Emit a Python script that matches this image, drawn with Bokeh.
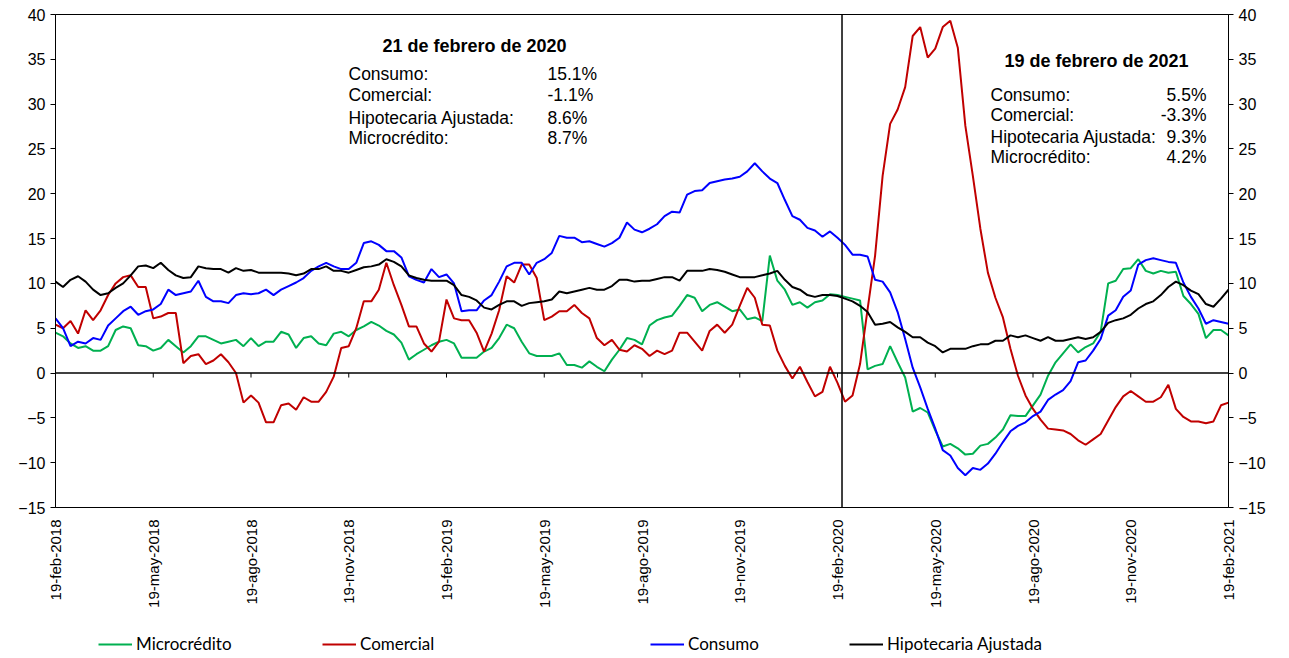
import math
from bokeh.plotting import figure
from bokeh.layouts import column
from bokeh.models import Range1d, LinearAxis, FixedTicker, Span, Label, Legend, LegendItem
from bokeh.embed import file_html
from bokeh.resources import INLINE

# ---------------- data (weekly, 19-feb-2018 .. 19-feb-2021) ----------------
tick_labels = ["19-feb-2018", "19-may-2018", "19-ago-2018", "19-nov-2018",
               "19-feb-2019", "19-may-2019", "19-ago-2019", "19-nov-2019",
               "19-feb-2020", "19-may-2020", "19-ago-2020", "19-nov-2020",
               "19-feb-2021"]
weeks_per_tick = 13

microcredito = [
    4.5, 4.1, 3.3, 2.8, 3.0, 2.5, 2.5, 3.0, 4.8, 5.2, 5.0, 3.1, 3.0, 2.5, 2.8, 3.7, 3.0, 2.3, 3.0, 4.1, 4.1, 3.7, 3.3, 3.5, 3.7, 3.0, 3.9,
    3.0, 3.5, 3.5, 4.6, 4.3, 2.8, 3.9, 4.1, 3.3, 3.1, 4.4, 4.6, 4.1, 4.8, 5.2, 5.7, 5.3, 4.7, 4.3, 3.4, 1.5, 2.1, 2.6, 3.1, 3.5, 3.7,
    3.3, 1.7, 1.7, 1.7, 2.4, 2.8, 3.9, 5.4, 5.0, 3.5, 2.2, 1.9, 1.9, 1.9, 2.2, 0.9, 0.9, 0.6, 1.3, 0.7, 0.2, 1.5, 2.6, 3.9, 3.7, 3.2,
    5.3, 5.9, 6.2, 6.4, 7.5, 8.7, 8.4, 6.9, 7.6, 7.9, 7.4, 6.9, 7.1, 6.0, 6.2, 5.8, 13.1, 10.3, 9.3, 7.6, 7.9, 7.3, 7.9, 8.1, 8.8, 8.7,
    8.5, 8.3, 8.1, 0.4, 0.8, 1.0, 3.0, 1.2, -0.5, -4.3, -3.9, -4.4, -6.4, -8.2, -7.9, -8.4, -9.1, -9.0, -8.1, -7.9, -7.2, -6.3, -4.7, -4.8, -4.8, -3.6,
    -2.4, -0.3, 1.2, 2.2, 3.2, 2.3, 2.9, 3.3, 4.6, 10.0, 10.3, 11.6, 11.7, 12.7, 11.4, 11.1, 11.4, 11.2, 11.3, 8.6, 7.7, 6.6, 3.9, 4.8, 4.8, 4.2,
]
comercial = [
    5.4, 5.0, 5.8, 4.4, 7.0, 5.9, 7.0, 8.7, 10.0, 10.7, 10.9, 9.6, 9.6, 6.1, 6.3, 6.7, 6.7, 1.1, 1.9, 2.1, 1.0, 1.4, 2.1, 1.2, 0.0, -3.3, -2.5,
    -3.3, -5.5, -5.5, -3.6, -3.4, -4.1, -2.7, -3.2, -3.2, -2.1, -0.4, 2.8, 3.0, 5.0, 8.0, 8.0, 9.3, 12.3, 9.8, 7.6, 5.2, 5.2, 3.3, 2.4, 3.5, 8.2,
    6.1, 5.9, 5.9, 4.5, 2.4, 4.4, 7.0, 10.8, 10.1, 12.1, 12.1, 10.6, 5.9, 6.3, 6.9, 6.9, 7.6, 6.7, 6.1, 3.9, 3.1, 3.7, 2.6, 2.4, 3.1, 2.7,
    1.9, 2.5, 2.1, 2.5, 4.5, 4.5, 3.5, 2.5, 4.7, 5.4, 4.5, 5.4, 7.5, 9.5, 8.4, 5.4, 5.3, 2.5, 0.8, -0.6, 0.7, -1.0, -2.6, -2.1, 0.7, -1.1,
    -3.2, -2.5, 1.0, 7.1, 13.1, 22.0, 27.8, 29.4, 31.9, 37.6, 38.6, 35.2, 36.2, 38.6, 39.3, 36.3, 27.6, 22.0, 16.1, 11.2, 8.4, 6.2, 2.7, -0.3, -2.5, -4.0,
    -5.2, -6.2, -6.3, -6.4, -6.8, -7.5, -8.0, -7.4, -6.8, -5.3, -3.8, -2.6, -2.0, -2.6, -3.2, -3.2, -2.7, -1.3, -4.0, -4.9, -5.4, -5.4, -5.6, -5.4, -3.6, -3.3,
]
consumo = [
    6.1, 5.0, 3.0, 3.5, 3.3, 3.9, 3.7, 5.3, 6.1, 6.9, 7.4, 6.5, 6.9, 7.1, 7.7, 9.3, 8.7, 8.9, 9.1, 10.3, 8.5, 8.0, 8.0, 7.8, 8.7, 8.9, 8.8,
    8.9, 9.3, 8.7, 9.3, 9.7, 10.1, 10.6, 11.4, 11.9, 12.3, 11.9, 11.6, 11.6, 12.3, 14.5, 14.7, 14.3, 13.6, 13.6, 12.9, 10.8, 10.4, 10.1, 11.6, 10.7, 11.0,
    10.0, 6.9, 7.0, 7.0, 8.1, 8.7, 10.2, 11.9, 12.3, 12.3, 11.0, 12.3, 12.7, 13.4, 15.3, 15.1, 15.1, 14.6, 14.7, 14.4, 14.1, 14.5, 15.1, 16.8, 16.0, 15.7,
    16.1, 16.6, 17.5, 18.0, 17.9, 19.9, 20.3, 20.4, 21.2, 21.4, 21.6, 21.7, 21.9, 22.5, 23.4, 22.5, 21.7, 21.2, 19.3, 17.5, 17.1, 16.2, 15.9, 15.2, 15.8, 15.1,
    14.3, 13.2, 13.2, 13.0, 10.4, 10.2, 9.0, 6.8, 3.8, 0.6, -1.6, -4.0, -6.2, -8.6, -9.2, -10.6, -11.4, -10.6, -10.8, -10.1, -9.0, -7.7, -6.5, -5.9, -5.5, -4.8,
    -4.3, -3.0, -2.4, -1.9, -0.9, 1.2, 1.4, 2.5, 3.8, 6.4, 7.0, 8.5, 9.2, 12.1, 12.6, 12.8, 12.6, 12.4, 12.3, 10.1, 8.5, 7.2, 5.5, 5.9, 5.7, 5.5,
]
hipotecaria = [
    10.2, 9.6, 10.4, 10.8, 10.2, 9.3, 8.7, 8.9, 9.5, 10.0, 10.9, 11.9, 12.0, 11.7, 12.3, 11.5, 10.9, 10.6, 10.7, 11.9, 11.7, 11.6, 11.6, 11.2, 11.7, 11.4, 11.5,
    11.2, 11.2, 11.2, 11.2, 11.1, 10.9, 11.1, 11.6, 11.6, 11.9, 11.4, 11.4, 11.2, 11.5, 11.8, 11.9, 12.1, 12.7, 12.4, 11.9, 10.9, 10.6, 10.4, 10.3, 10.3, 10.3,
    9.8, 8.7, 8.5, 8.1, 7.3, 7.1, 7.6, 8.0, 8.0, 7.5, 7.8, 7.9, 8.0, 8.2, 9.1, 8.9, 9.1, 9.3, 9.5, 9.3, 9.3, 9.7, 10.4, 10.4, 10.2, 10.3,
    10.3, 10.5, 10.7, 10.7, 10.3, 11.4, 11.4, 11.4, 11.6, 11.5, 11.3, 11.0, 10.7, 10.7, 10.7, 10.9, 11.1, 11.4, 10.4, 9.6, 9.3, 8.7, 8.5, 8.7, 8.7, 8.6,
    8.3, 8.0, 7.5, 6.8, 5.4, 5.5, 5.7, 5.1, 4.6, 4.0, 4.0, 3.4, 3.0, 2.3, 2.7, 2.7, 2.7, 3.0, 3.2, 3.2, 3.6, 3.6, 4.2, 4.0, 4.2, 3.9,
    3.6, 4.0, 3.6, 3.6, 3.8, 4.0, 3.8, 4.0, 4.6, 5.6, 5.9, 6.1, 6.5, 7.2, 7.7, 8.0, 8.7, 9.6, 10.2, 9.8, 9.2, 8.8, 7.7, 7.4, 8.3, 9.3,
]
weeks = list(range(len(consumo)))

series_names = ["Microcrédito", "Comercial", "Consumo", "Hipotecaria Ajustada"]
series_values = [microcredito, comercial, consumo, hipotecaria]
series_colors = ["#00B050", "#C00000", "#0000FF", "#000000"]

snap1_index, snap1_title = 104, "21 de febrero de 2020"
snap2_index, snap2_title = 156, "19 de febrero de 2021"
y_ticks = list(range(-15, 41, 5))

# ---------------- main figure ----------------
FONT = "Liberation Sans"
W = 1285
p = figure(width=W, height=615, output_backend="svg", toolbar_location=None,
           x_range=Range1d(0, len(weeks) - 1), y_range=Range1d(-15, 40),
           min_border_left=55, min_border_right=57, min_border_top=14, min_border_bottom=108)
p.xgrid.visible = False
p.ygrid.visible = False
p.outline_line_color = "black"
p.outline_line_width = 1
p.background_fill_color = "white"
p.border_fill_color = "white"

tick_pos = [i * weeks_per_tick for i in range(len(tick_labels))]
p.xaxis.ticker = FixedTicker(ticks=tick_pos)
p.xaxis.major_label_overrides = {t: l for t, l in zip(tick_pos, tick_labels)}
p.xaxis.major_label_orientation = math.pi / 2
p.xaxis.major_label_text_font = FONT
p.xaxis.major_label_text_font_size = "15px"
p.xaxis.major_label_text_color = "black"
p.xaxis.major_label_standoff = 12
p.xaxis.major_tick_out = 0
p.xaxis.major_tick_in = 0
p.xaxis.minor_tick_out = 0
p.xaxis.minor_tick_in = 0
p.xaxis.axis_line_color = None

p.yaxis.ticker = FixedTicker(ticks=y_ticks)
ax_r = LinearAxis(ticker=FixedTicker(ticks=y_ticks))
p.add_layout(ax_r, "right")
for ax in (p.yaxis[0], ax_r):
    ax.major_label_text_font = FONT
    ax.major_label_text_font_size = "16px"
    ax.major_label_text_color = "black"
    ax.major_tick_out = 5
    ax.major_tick_in = 0
    ax.minor_tick_out = 0
    ax.minor_tick_in = 0
    ax.axis_line_color = "black"
    ax.major_tick_line_color = "black"
    ax.major_label_standoff = 5

# zero line with category ticks
p.add_layout(Span(location=0, dimension="width", line_color="black", line_width=1.5))
p.segment(x0=tick_pos[1:-1], y0=[0] * (len(tick_pos) - 2), x1=tick_pos[1:-1],
          y1=[-0.5] * (len(tick_pos) - 2), line_color="black", line_width=1)

# vertical marker line
p.add_layout(Span(location=104.6, dimension="height", line_color="black", line_width=1.5))

for name, vals, col in zip(series_names, series_values, series_colors):
    p.line(weeks, vals, line_color=col, line_width=2)

# text boxes
def add_label(x, y, text, align="left", bold=False):
    p.add_layout(Label(x=x, y=y, x_units="screen", y_units="screen", text=text,
                       text_font=FONT, text_font_size="18px" if bold else "17.5px",
                       text_color="black", text_align=align, text_baseline="middle",
                       text_font_style="bold" if bold else "normal"))

names_box = ["Consumo:", "Comercial:", "Hipotecaria Ajustada:", "Microcrédito:"]
vals_box = [consumo, comercial, hipotecaria, microcredito]

add_label(419, 462, snap1_title, align="center", bold=True)
for i, (nm, vv) in enumerate(zip(names_box, vals_box)):
    y = [434, 413, 390, 370][i]
    add_label(293, y, nm)
    add_label(492, y, f"{vv[snap1_index]:.1f}%")

add_label(1041, 447, snap2_title, align="center", bold=True)
for i, (nm, vv) in enumerate(zip(names_box, vals_box)):
    y = [413, 393, 371, 351][i]
    add_label(935, y, nm)
    add_label(1151, y, f"{vv[snap2_index]:.1f}%", align="right")

# ---------------- legend strip (series drawn out of view; only legend shows) ----------------
lg = figure(width=W, height=42, output_backend="svg", toolbar_location=None,
            x_range=Range1d(0, len(weeks) - 1), y_range=Range1d(1000, 1001),
            x_axis_type=None, y_axis_type=None, min_border=0)
lg.xgrid.visible = False
lg.ygrid.visible = False
lg.outline_line_color = None
legend_x = [43, 267, 595, 794]
for name, vals, col, lx in zip(series_names, series_values, series_colors, legend_x):
    r = lg.line(weeks, vals, line_color=col, line_width=2)
    leg = Legend(items=[LegendItem(label=name, renderers=[r])], location=(lx, 3),
                 orientation="horizontal", border_line_color=None,
                 background_fill_alpha=0, padding=0, margin=0, spacing=0,
                 glyph_width=34, glyph_height=20, label_standoff=4, label_height=20,
                 label_text_font="Lato", label_text_font_size="17px",
                 label_text_color="black")
    lg.add_layout(leg)

layout = column(p, lg, spacing=0)
open("out.html", "w").write(file_html(layout, INLINE))
